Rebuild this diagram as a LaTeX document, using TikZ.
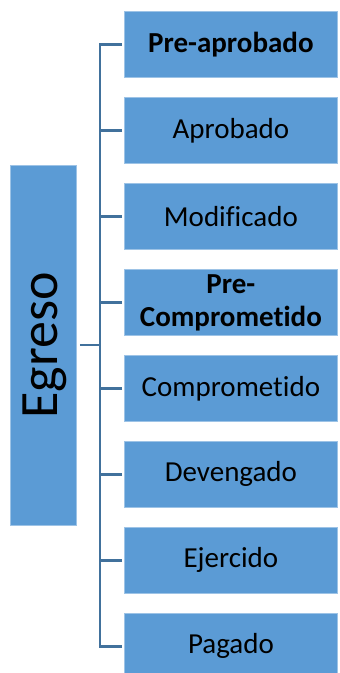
\documentclass[tikz,border=0pt]{standalone}
\usepackage{fontspec}
\setmainfont{Carlito}[Ligatures=NoCommon]
\definecolor{boxblue}{HTML}{5B9BD5}
\definecolor{linkblue}{HTML}{41719C}
\begin{document}
\begin{tikzpicture}[x=1pt,y=-1pt,
  item/.style={fill=boxblue,draw=boxblue!60!white,line width=0.8pt,minimum width=213pt,minimum height=66pt,anchor=north west,inner sep=0pt,align=center,font=\fontsize{29}{33}\selectfont},
  link/.style={draw=linkblue,line width=2.2pt}]
\useasboundingbox (0,0) rectangle (340,673);
\node[fill=boxblue,draw=boxblue!60!white,line width=0.8pt,minimum width=66pt,minimum height=360pt,anchor=north west,inner sep=0pt] (root) at (10,165) {};
\node[rotate=90,font=\fontsize{54}{60}\selectfont] (roottext) at ([xshift=1pt]root.center) {Egreso};
\node[item,font=\fontsize{29}{33}\selectfont\bfseries] (b1) at (124,11) {Pre-aprobado};
\node[item] (b2) at (124,97) {Aprobado};
\node[item] (b3) at (124,183) {Modificado};
\node[item,font=\fontsize{29}{33}\selectfont\bfseries] (b4) at (124,269) {Pre-\\Comprometido};
\node[item] (b5) at (124,355) {Comprometido};
\node[item] (b6) at (124,441) {Devengado};
\node[item] (b7) at (124,527) {Ejercido};
\node[item] (b8) at (124,613) {Pagado};
\coordinate (trunk) at (100,345);
\draw[link] (root.east |- trunk) ++(3,0) -- (trunk);
\draw[link] (b1.west) ++(-2,0) -| (trunk);
\draw[link] (b8.west) ++(-2,0) -| (trunk);
\foreach \n in {b2,b3,b4,b5,b6,b7} {
  \draw[link] (\n.west) ++(-2,0) -- (trunk |- \n.west);
}
\end{tikzpicture}
\end{document}
